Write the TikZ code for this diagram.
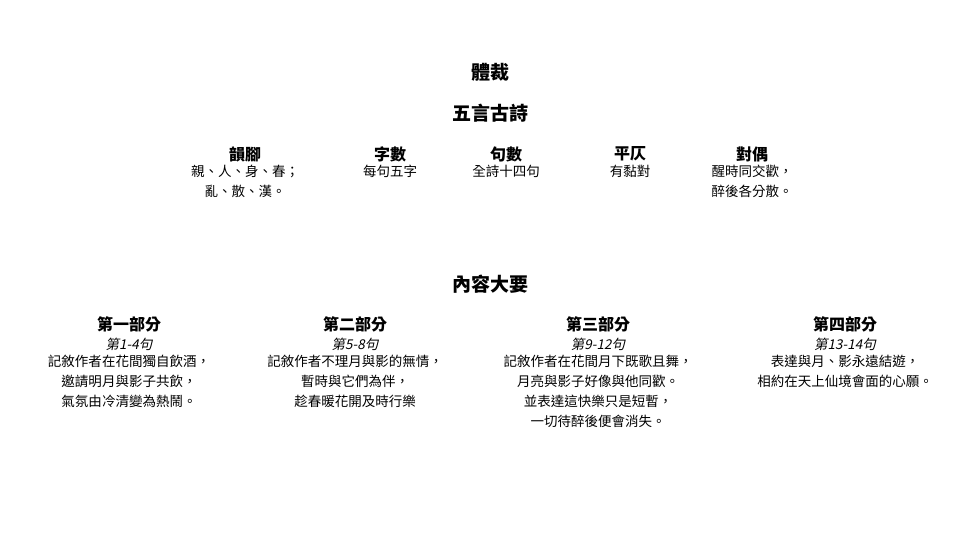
\documentclass[tikz,border=0pt]{standalone}
\usepackage{fontspec}
\setmainfont{Noto Sans CJK TC}
\newfontfamily\cjkslant[FakeSlant=0.2]{Noto Sans CJK TC}
\usetikzlibrary{positioning}

\tikzset{
  title/.style={font=\fontsize{19bp}{22bp}\selectfont\bfseries, inner sep=0pt},
  head/.style={font=\fontsize{16bp}{20bp}\selectfont\bfseries, inner sep=0pt},
  body/.style={font=\fontsize{13.5bp}{20bp}\selectfont, align=center, inner sep=0pt, anchor=north},
  verse/.style={font=\fontsize{13.5bp}{20bp}\selectfont\cjkslant, inner sep=0pt}
}

\begin{document}
\begin{tikzpicture}[x=1bp,y=-1bp]
\useasboundingbox[fill=white] (0,0) rectangle (980,551);
\node[title] (form) at (490,72) {體裁};
\node[title] (genre) at (490,113) {五言古詩};

\node[head] (rhyme) at (245,154) {韻腳};
\node[head] (chars) at (390,154) {字數};
\node[head] (lines) at (506,154) {句數};
\node[head] (tone) at (630,154) {平仄};
\node[head] (pair) at (752,154) {對偶};
\node[body] (rhymeT) at (245,165) {親、人、身、春；\\亂、散、漢。};
\node[body] (charsT) at (390,165) {每句五字};
\node[body] (linesT) at (506,165) {全詩十四句};
\node[body] (toneT) at (630,165) {有黏對};
\node[body] (pairT) at (752,165) {醒時同交歡，\\醉後各分散。};

\node[title] (summary) at (490,284) {內容大要};

\node[head] (partA) at (129,324) {第一部分};
\node[head] (partB) at (355,324) {第二部分};
\node[head] (partC) at (598,324) {第三部分};
\node[head] (partD) at (845,324) {第四部分};
\node[verse] (verseA) at (129,344) {第1-4句};
\node[verse] (verseB) at (355,344) {第5-8句};
\node[verse] (verseC) at (598,344) {第9-12句};
\node[verse] (verseD) at (845,344) {第13-14句};
\node[body] (textA) at (129,355) {記敘作者在花間獨自飲酒，\\邀請明月與影子共飲，\\氣氛由冷清變為熱鬧。};
\node[body] (textB) at (355,355) {記敘作者不理月與影的無情，\\暫時與它們為伴，\\趁春暖花開及時行樂};
\node[body] (textC) at (598,355) {記敘作者在花間月下既歌且舞，\\月亮與影子好像與他同歡。\\並表達這快樂只是短暫，\\一切待醉後便會消失。};
\node[body] (textD) at (845,355) {表達與月、影永遠結遊，\\相約在天上仙境會面的心願。};
\end{tikzpicture}
\end{document}
